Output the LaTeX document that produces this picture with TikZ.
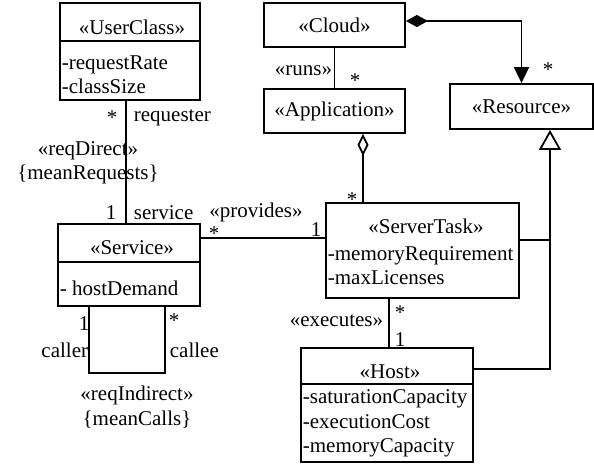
\documentclass[tikz,border=0pt]{standalone}
\usepackage{fontspec}
\setmainfont{Liberation Serif}
\usepackage{tikz}
\usetikzlibrary{
    arrows.meta,
    calc,
    positioning
}
\newcommand{\umlsize}{\fontsize{21}{24.5}\selectfont}

\begin{document}
\begin{tikzpicture}[x=1pt, y=-1pt, line width=1.8pt,
        umlbox/.style={draw, rectangle, inner sep=0pt, font=\umlsize},
        txt/.style={inner sep=0pt, font=\umlsize},
        attr/.style={txt, anchor=west, align=left},
        comp/.style={{Diamond[length=22pt,width=12pt]}-{Triangle[length=16pt,width=15pt]}},
        aggr/.style={{Diamond[open,length=22pt,width=11pt]}-},
        gen/.style={{Triangle[open,length=20pt,width=22pt]}-}]
    \useasboundingbox (0,0) rectangle (594,465);

    \node[umlbox, minimum width=140, minimum height=97] (uc) at (130,51.5) {};
    \node[txt] (ucname) at (132,27) {«UserClass»};
    \draw (uc.west |- 0,41) -- (uc.east |- 0,41);
    \node[attr] (ucattr) at (61,74.5) {-requestRate\\-classSize};

    \node[umlbox, minimum width=141, minimum height=44] (cloud) at (334.5,25) {«Cloud»};
    \node[umlbox, minimum width=141, minimum height=44] (app) at (334.5,111) {«Application»};
    \node[umlbox, minimum width=143, minimum height=45] (res) at (521.5,106.5) {«Resource»};

    \node[umlbox, minimum width=193, minimum height=95] (st) at (422.5,250.5) {};
    \node[txt] (stname) at (426,226) {«ServerTask»};
    \node[attr] (stattr) at (327,265.5) {-memoryRequirement\\-maxLicenses};

    \node[umlbox, minimum width=142, minimum height=82] (svc) at (129,265) {};
    \node[txt] (svcname) at (132,248) {«Service»};
    \draw (svc.west |- 0,262) -- (svc.east |- 0,262);
    \node[attr] (svcattr) at (59,288) {- hostDemand};

    \node[umlbox, minimum width=172, minimum height=114] (host) at (387,405) {};
    \node[txt] (hostname) at (390,372) {«Host»};
    \draw (host.west |- 0,384) -- (host.east |- 0,384);
    \node[attr] (hostattr) at (302,423.5) {-saturationCapacity\\-executionCost\\-memoryCapacity};

    \coordinate (rq) at (126,0);
    \coordinate (pv) at (0,238);
    \coordinate (cd) at (0,21);
    \coordinate (ag) at (363,0);
    \coordinate (gl) at (550,0);
    \coordinate (sg) at (0,240);
    \coordinate (hg) at (0,369);
    \coordinate (ex) at (389,0);
    \coordinate (lpa) at (89,373);
    \coordinate (lpb) at (165,373);

    \draw (rq |- uc.south) -- (rq |- svc.north);
    \node[txt] (rqm1) at (112,118) {*};
    \node[txt, anchor=west] (rqrole1) at (133,118) {requester};
    \node[txt, align=center] (rqname) at (88,163) {«reqDirect»\\\{meanRequests\}};
    \node[txt] (rqm2) at (111,213) {1};
    \node[txt, anchor=west] (rqrole2) at (133,213) {service};

    \draw (svc.east |- pv) -- (st.west |- pv);
    \node[txt] (pvm1) at (214,234) {*};
    \node[txt] (pvm2) at (316,230) {1};
    \node[txt] (pvname) at (256,212) {«provides»};

    \draw (cloud.south) -- (app.north);
    \node[txt, anchor=east] (runsname) at (333,71) {«runs»};
    \node[txt] (runsm) at (355,81) {*};

    \draw[comp] (cloud.east |- cd) -| (res.north);
    \node[txt] (compm) at (548,70) {*};

    \draw[aggr] (ag |- app.south) -- (ag |- st.north);
    \node[txt] (aggm) at (352,200) {*};

    \draw[gen] (gl |- res.south) -- (gl |- hg) -- (host.east |- hg);
    \draw (st.east |- sg) -- (gl |- sg);

    \draw (ex |- st.south) -- (ex |- host.north);
    \node[txt] (exm1) at (400,313) {*};
    \node[txt] (exm2) at (400,340) {1};
    \node[txt, anchor=east] (exname) at (384,321) {«executes»};

    \draw (lpa |- svc.south) -- (lpa) -- (lpb) -- (lpb |- svc.south);
    \node[txt] (lpm1) at (84,324) {1};
    \node[txt, anchor=east] (lprole1) at (89,350) {caller};
    \node[txt] (lpm2) at (174,321) {*};
    \node[txt, anchor=west] (lprole2) at (169,350) {callee};
    \node[txt, align=center] (lpname) at (137,407) {«reqIndirect»\\\{meanCalls\}};
\end{tikzpicture}
\end{document}
